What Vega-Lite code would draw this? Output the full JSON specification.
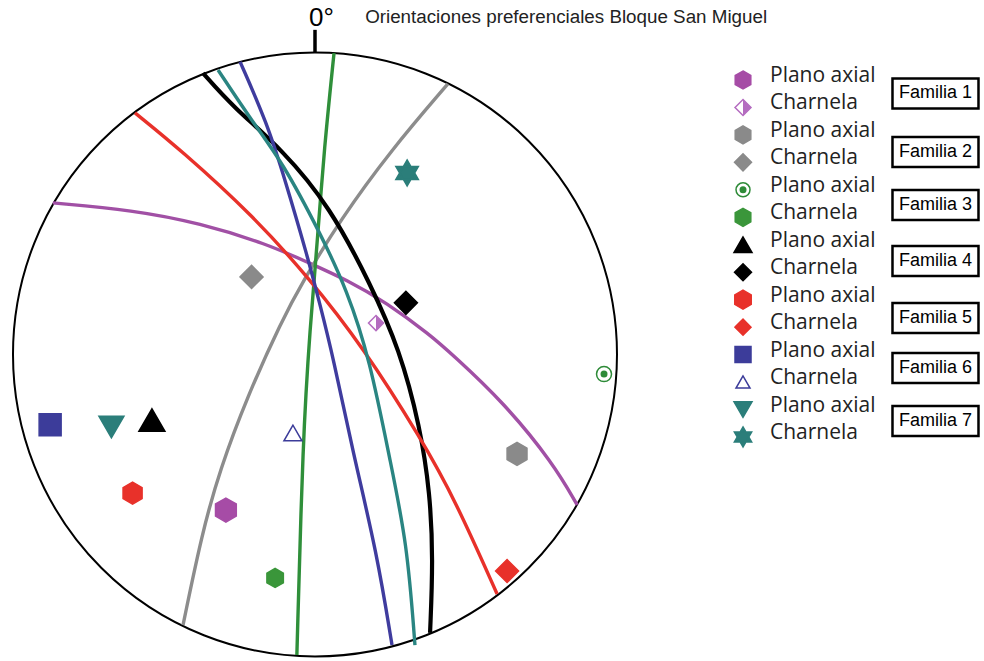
{
  "$schema": "https://vega.github.io/schema/vega-lite/v6.json",
  "padding": 0,
  "spacing": 0,
  "bounds": "flush",
  "background": "white",
  "config": {"view": {"stroke": null}, "concat": {"spacing": 0}},
  "datasets": {
    "curves": [
      {"fam":"1","i":0,"x":-0.868,"y":0.502},{"fam":"1","i":1,"x":-0.603,"y":0.478},{"fam":"1","i":2,"x":-0.381,"y":0.435},{"fam":"1","i":3,"x":-0.159,"y":0.366},{"fam":"1","i":4,"x":-0.026,"y":0.306},{"fam":"1","i":5,"x":0.106,"y":0.247},{"fam":"1","i":6,"x":0.238,"y":0.171},{"fam":"1","i":7,"x":0.381,"y":0.065},{"fam":"1","i":8,"x":0.457,"y":-0.002},{"fam":"1","i":9,"x":0.623,"y":-0.157},{"fam":"1","i":10,"x":0.788,"y":-0.359},{"fam":"1","i":11,"x":0.868,"y":-0.498},
      {"fam":"2","i":0,"x":0.44,"y":0.896},{"fam":"2","i":1,"x":0.252,"y":0.677},{"fam":"2","i":2,"x":0.083,"y":0.445},{"fam":"2","i":3,"x":-0.043,"y":0.237},{"fam":"2","i":4,"x":-0.109,"y":0.114},{"fam":"2","i":5,"x":-0.225,"y":-0.141},{"fam":"2","i":6,"x":-0.315,"y":-0.382},{"fam":"2","i":7,"x":-0.374,"y":-0.591},{"fam":"2","i":8,"x":-0.437,"y":-0.896},
      {"fam":"3","i":0,"x":0.063,"y":0.998},{"fam":"3","i":1,"x":0.03,"y":0.677},{"fam":"3","i":2,"x":0.01,"y":0.402},{"fam":"3","i":3,"x":-0.017,"y":0.081},{"fam":"3","i":4,"x":-0.04,"y":-0.273},{"fam":"3","i":5,"x":-0.06,"y":-0.995},
      {"fam":"4","i":0,"x":-0.371,"y":0.932},{"fam":"4","i":1,"x":-0.272,"y":0.82},{"fam":"4","i":2,"x":-0.106,"y":0.677},{"fam":"4","i":3,"x":0.05,"y":0.488},{"fam":"4","i":4,"x":0.182,"y":0.237},{"fam":"4","i":5,"x":0.281,"y":0.015},{"fam":"4","i":6,"x":0.348,"y":-0.24},{"fam":"4","i":7,"x":0.381,"y":-0.459},{"fam":"4","i":8,"x":0.391,"y":-0.68},{"fam":"4","i":9,"x":0.381,"y":-0.922},
      {"fam":"5","i":0,"x":-0.596,"y":0.8},{"fam":"5","i":1,"x":-0.444,"y":0.677},{"fam":"5","i":2,"x":-0.205,"y":0.459},{"fam":"5","i":3,"x":-0.023,"y":0.257},{"fam":"5","i":4,"x":0.159,"y":0.025},{"fam":"5","i":5,"x":0.354,"y":-0.283},{"fam":"5","i":6,"x":0.464,"y":-0.482},{"fam":"5","i":7,"x":0.603,"y":-0.793},
      {"fam":"6","i":0,"x":-0.248,"y":0.969},{"fam":"6","i":1,"x":-0.159,"y":0.767},{"fam":"6","i":2,"x":-0.099,"y":0.578},{"fam":"6","i":3,"x":-0.026,"y":0.329},{"fam":"6","i":4,"x":0.017,"y":0.164},{"fam":"6","i":5,"x":0.06,"y":-0.008},{"fam":"6","i":6,"x":0.126,"y":-0.326},{"fam":"6","i":7,"x":0.205,"y":-0.657},{"fam":"6","i":8,"x":0.255,"y":-0.962},
      {"fam":"7","i":0,"x":-0.321,"y":0.942},{"fam":"7","i":1,"x":-0.205,"y":0.767},{"fam":"7","i":2,"x":-0.106,"y":0.634},{"fam":"7","i":3,"x":0.017,"y":0.402},{"fam":"7","i":4,"x":0.106,"y":0.214},{"fam":"7","i":5,"x":0.182,"y":-0.018},{"fam":"7","i":6,"x":0.248,"y":-0.349},{"fam":"7","i":7,"x":0.305,"y":-0.624},{"fam":"7","i":8,"x":0.331,"y":-0.962}
    ],
    "points": [
      {"sym":"1PA","x":-0.295,"y":-0.515},{"sym":"1Ch","x":0.202,"y":0.104},
      {"sym":"2PA","x":0.669,"y":-0.329},{"sym":"2Ch","x":-0.21,"y":0.257},
      {"sym":"3PA","x":0.957,"y":-0.065},{"sym":"3Ch","x":-0.132,"y":-0.74},
      {"sym":"4PA","x":-0.54,"y":-0.217},{"sym":"4Ch","x":0.301,"y":0.171},
      {"sym":"5PA","x":-0.604,"y":-0.459},{"sym":"5Ch","x":0.636,"y":-0.717},
      {"sym":"6PA","x":-0.877,"y":-0.233},{"sym":"6Ch","x":-0.073,"y":-0.26},
      {"sym":"7PA","x":-0.674,"y":-0.24},{"sym":"7Ch","x":0.305,"y":0.601}
    ],
    "legend": [
      {"sym":"1PA","label":"Plano axial","row":0},{"sym":"1Ch","label":"Charnela","row":1},
      {"sym":"2PA","label":"Plano axial","row":2},{"sym":"2Ch","label":"Charnela","row":3},
      {"sym":"3PA","label":"Plano axial","row":4},{"sym":"3Ch","label":"Charnela","row":5},
      {"sym":"4PA","label":"Plano axial","row":6},{"sym":"4Ch","label":"Charnela","row":7},
      {"sym":"5PA","label":"Plano axial","row":8},{"sym":"5Ch","label":"Charnela","row":9},
      {"sym":"6PA","label":"Plano axial","row":10},{"sym":"6Ch","label":"Charnela","row":11},
      {"sym":"7PA","label":"Plano axial","row":12},{"sym":"7Ch","label":"Charnela","row":13}
    ],
    "familias": [
      {"fam":"Familia 1","row":0.49},{"fam":"Familia 2","row":2.62},{"fam":"Familia 3","row":4.55},
      {"fam":"Familia 4","row":6.59},{"fam":"Familia 5","row":8.67},{"fam":"Familia 6","row":10.49},
      {"fam":"Familia 7","row":12.42}
    ]
  },
  "resolve": {"scale": {"x":"independent","y":"independent","color":"independent","shape":"independent","fill":"independent","stroke":"independent","size":"independent"}},
  "hconcat": [
    {
      "width": 690,
      "height": 661,
      "encoding": {
        "x": {"field":"x","type":"quantitative","axis":null,"scale":{"domain":[-1.043,1.2417],"nice":false,"zero":false}},
        "y": {"field":"y","type":"quantitative","axis":null,"scale":{"domain":[-1.0149,1.1738],"nice":false,"zero":false}}
      },
      "layer": [
        {
          "data": {"values":[{"x":0,"y":0}]},
          "mark": {"type":"point","shape":"circle","filled":false,"stroke":"black","strokeWidth":2,"size":364816,"opacity":1}
        },
        {
          "data": {"values":[{"x":0,"y":1,"y2":1.075}]},
          "mark": {"type":"rule","stroke":"black","strokeWidth":3.5},
          "encoding": {"y2":{"field":"y2"}}
        },
        {
          "data": {"values":[{"x":0.021,"y":1.115,"t":"0°"}]},
          "mark": {"type":"text","font":"Liberation Sans","fontSize":26,"align":"center","baseline":"middle","color":"black"},
          "encoding": {"text":{"field":"t"}}
        },
        {
          "data": {"values":[{"x":0.166,"y":1.117,"t":"Orientaciones preferenciales Bloque San Miguel"}]},
          "mark": {"type":"text","font":"Liberation Sans","fontSize":18.8,"align":"left","baseline":"middle","color":"#222"},
          "encoding": {"text":{"field":"t"}}
        },
        {
          "data": {"name":"curves"},
          "mark": {"type":"line","interpolate":"basis"},
          "encoding": {
            "color": {"field":"fam","type":"nominal","legend":null,"scale":{"domain":["1","2","3","4","5","6","7"],"range":["#a150a5","#8c8c8c","#2f8f3a","#000000","#e8312a","#3f3c9e","#2a8582"]}},
            "strokeWidth": {"condition":{"test":"datum.fam==='4'","value":4.2},"value":3.4},
            "order": {"field":"i","type":"quantitative"}
          }
        },
        {
          "data": {"name":"points"},
          "mark": {"type":"point","filled":true,"strokeWidth":1.5,"opacity":1},
          "encoding": {
            "shape": {"field":"sym","type":"nominal","legend":null,"scale":{"domain":["1PA","1Ch","2PA","2Ch","3PA","3Ch","4PA","4Ch","5PA","5Ch","6PA","6Ch","7PA","7Ch"],"range":["M0,-1L0.866,-0.5L0.866,0.5L0,1L-0.866,0.5L-0.866,-0.5Z","diamond","M0,-1L0.866,-0.5L0.866,0.5L0,1L-0.866,0.5L-0.866,-0.5Z","diamond","circle","M0,-1L0.866,-0.5L0.866,0.5L0,1L-0.866,0.5L-0.866,-0.5Z","triangle-up","diamond","M0,-1L0.866,-0.5L0.866,0.5L0,1L-0.866,0.5L-0.866,-0.5Z","diamond","square","triangle-up","triangle-down","M0,-1L0.866,0.5L-0.866,0.5ZM0,1L-0.866,-0.5L0.866,-0.5Z"]}},
            "fill": {"field":"sym","type":"nominal","legend":null,"scale":{"domain":["1PA","1Ch","2PA","2Ch","3PA","3Ch","4PA","4Ch","5PA","5Ch","6PA","6Ch","7PA","7Ch"],"range":["#a64ca6","#ffffff","#8a8a8a","#8a8a8a","#ffffff","#3a963a","#000000","#000000","#e8312a","#e8312a","#3c3c9a","#ffffff","#2b7e7a","#2b7e7a"]}},
            "stroke": {"field":"sym","type":"nominal","legend":null,"scale":{"domain":["1PA","1Ch","2PA","2Ch","3PA","3Ch","4PA","4Ch","5PA","5Ch","6PA","6Ch","7PA","7Ch"],"range":["#a64ca6","#b46cc0","#8a8a8a","#8a8a8a","#2e8b38","#3a963a","#000000","#000000","#e8312a","#e8312a","#3c3c9a","#3c3c9a","#2b7e7a","#2b7e7a"]}},
            "size": {"condition":[
              {"test":"datum.sym==='1PA'","value":576},{"test":"datum.sym==='1Ch'","value":225},
              {"test":"datum.sym==='2PA'","value":529},{"test":"datum.sym==='2Ch'","value":529},
              {"test":"datum.sym==='3PA'","value":225},{"test":"datum.sym==='3Ch'","value":361},
              {"test":"datum.sym==='4PA'","value":676},{"test":"datum.sym==='4Ch'","value":529},
              {"test":"datum.sym==='5PA'","value":484},{"test":"datum.sym==='5Ch'","value":529},
              {"test":"datum.sym==='6PA'","value":484},{"test":"datum.sym==='6Ch'","value":324},
              {"test":"datum.sym==='7PA'","value":625}],"value":676}
          }
        },
        {
          "data": {"name":"points"},
          "transform": [{"filter":"datum.sym==='1Ch'"}],
          "mark": {"type":"point","shape":"M0,-1L1,0L0,1Z","filled":true,"fill":"#b46cc0","strokeWidth":0,"size":225,"opacity":1}
        },
        {
          "data": {"name":"points"},
          "transform": [{"filter":"datum.sym==='3PA'"}],
          "mark": {"type":"point","shape":"circle","filled":true,"fill":"#2e8b38","strokeWidth":0,"size":49,"opacity":1}
        }
      ]
    },
    {
      "width": 294,
      "height": 661,
      "layer": [
        {
          "data": {"name":"legend"},
          "mark": {"type":"point","filled":true,"strokeWidth":1.5,"opacity":1},
          "encoding": {
            "x": {"datum":1.803,"type":"quantitative","axis":null,"scale":{"domain":[0,10],"nice":false,"zero":false}},
            "y": {"field":"row","type":"quantitative","axis":null,"scale":{"domain":[-2.913,21.158],"nice":false,"zero":false,"reverse":true}},
            "shape": {"field":"sym","type":"nominal","legend":null,"scale":{"domain":["1PA","1Ch","2PA","2Ch","3PA","3Ch","4PA","4Ch","5PA","5Ch","6PA","6Ch","7PA","7Ch"],"range":["M0,-1L0.866,-0.5L0.866,0.5L0,1L-0.866,0.5L-0.866,-0.5Z","diamond","M0,-1L0.866,-0.5L0.866,0.5L0,1L-0.866,0.5L-0.866,-0.5Z","diamond","circle","M0,-1L0.866,-0.5L0.866,0.5L0,1L-0.866,0.5L-0.866,-0.5Z","triangle-up","diamond","M0,-1L0.866,-0.5L0.866,0.5L0,1L-0.866,0.5L-0.866,-0.5Z","diamond","square","triangle-up","triangle-down","M0,-1L0.866,0.5L-0.866,0.5ZM0,1L-0.866,-0.5L0.866,-0.5Z"]}},
            "fill": {"field":"sym","type":"nominal","legend":null,"scale":{"domain":["1PA","1Ch","2PA","2Ch","3PA","3Ch","4PA","4Ch","5PA","5Ch","6PA","6Ch","7PA","7Ch"],"range":["#a64ca6","#ffffff","#8a8a8a","#8a8a8a","#ffffff","#3a963a","#000000","#000000","#e8312a","#e8312a","#3c3c9a","#ffffff","#2b7e7a","#2b7e7a"]}},
            "stroke": {"field":"sym","type":"nominal","legend":null,"scale":{"domain":["1PA","1Ch","2PA","2Ch","3PA","3Ch","4PA","4Ch","5PA","5Ch","6PA","6Ch","7PA","7Ch"],"range":["#a64ca6","#b46cc0","#8a8a8a","#8a8a8a","#2e8b38","#3a963a","#000000","#000000","#e8312a","#e8312a","#3c3c9a","#3c3c9a","#2b7e7a","#2b7e7a"]}},
            "size": {"condition":[
              {"test":"datum.sym==='1PA'","value":324},{"test":"datum.sym==='1Ch'","value":256},
              {"test":"datum.sym==='2PA'","value":324},{"test":"datum.sym==='2Ch'","value":289},
              {"test":"datum.sym==='3PA'","value":196},{"test":"datum.sym==='3Ch'","value":324},
              {"test":"datum.sym==='4PA'","value":324},{"test":"datum.sym==='4Ch'","value":289},
              {"test":"datum.sym==='5PA'","value":361},{"test":"datum.sym==='5Ch'","value":256},
              {"test":"datum.sym==='6PA'","value":256},{"test":"datum.sym==='6Ch'","value":196},
              {"test":"datum.sym==='7PA'","value":324}],"value":400}
          }
        },
        {
          "data": {"name":"legend"},
          "transform": [{"filter":"datum.sym==='1Ch'"}],
          "mark": {"type":"point","shape":"M0,-1L1,0L0,1Z","filled":true,"fill":"#b46cc0","strokeWidth":0,"size":256,"opacity":1},
          "encoding": {"x":{"datum":1.803,"type":"quantitative"},"y":{"field":"row","type":"quantitative"}}
        },
        {
          "data": {"name":"legend"},
          "transform": [{"filter":"datum.sym==='3PA'"}],
          "mark": {"type":"point","shape":"circle","filled":true,"fill":"#2e8b38","strokeWidth":0,"size":49,"opacity":1},
          "encoding": {"x":{"datum":1.803,"type":"quantitative"},"y":{"field":"row","type":"quantitative"}}
        },
        {
          "data": {"name":"legend"},
          "mark": {"type":"text","font":"Open Sans","fontSize":21,"align":"left","baseline":"alphabetic","dy":2,"color":"#222"},
          "encoding": {"x":{"datum":2.721,"type":"quantitative"},"y":{"field":"row","type":"quantitative"},"text":{"field":"label"}}
        },
        {
          "data": {"name":"familias"},
          "mark": {"type":"point","shape":"M-1,-0.35H1V0.35H-1Z","filled":false,"stroke":"black","strokeWidth":2.5,"size":7396,"opacity":1},
          "encoding": {"x":{"datum":8.35,"type":"quantitative"},"y":{"field":"row","type":"quantitative"}}
        },
        {
          "data": {"name":"familias"},
          "mark": {"type":"text","font":"Liberation Sans","fontSize":18,"align":"center","baseline":"middle","color":"black"},
          "encoding": {"x":{"datum":8.35,"type":"quantitative"},"y":{"field":"row","type":"quantitative"},"text":{"field":"fam"}}
        }
      ]
    }
  ]
}
